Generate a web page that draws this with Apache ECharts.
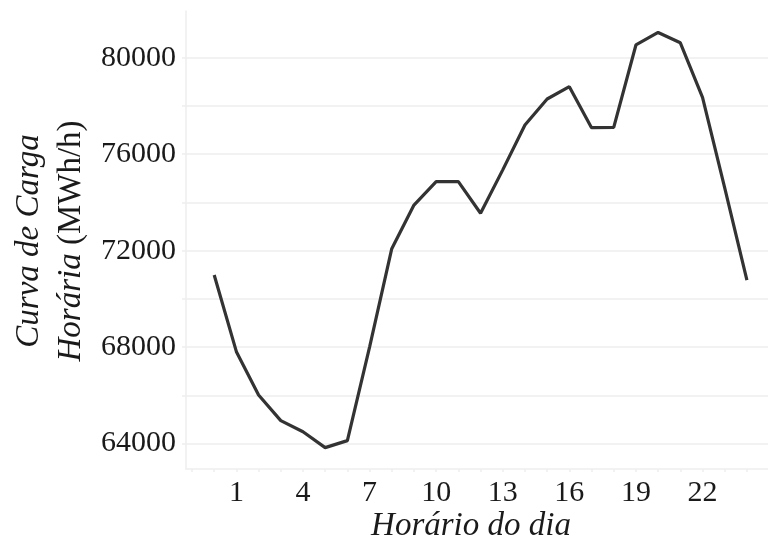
<!DOCTYPE html>
<html>
<head>
<meta charset="utf-8">
<script src="https://cdn.jsdelivr.net/npm/echarts@6/dist/echarts.min.js"></script>
<style>
html,body{margin:0;padding:0;background:#fff;}
#c{width:768px;height:542px;}
</style>
</head>
<body>
<div id="c"></div>
<script>
// Data
const hours = [0,1,2,3,4,5,6,7,8,9,10,11,12,13,14,15,16,17,18,19,20,21,22,23,24];
const load = [70990,67810,66010,64950,64490,63830,64120,68000,72080,73890,74860,74860,73550,75350,77210,78290,78800,77100,77110,80530,81050,80620,78360,74600,70780];
const xTickLabels = [1,4,7,10,13,16,19,22];
const xMinorTicks = [-1,0,1,2,3,4,5,6,7,8,9,10,11,12,13,14,15,16,17,18,19,20,21,22,23,24];
const yTickLabels = [64000,68000,72000,76000,80000];
const yGridValues = [64000,66000,68000,70000,72000,74000,76000,78000,80000];
const xTitle = 'Horário do dia';
const yTitle1 = 'Curva de Carga';
const yTitle2a = 'Horária';
const yTitle2b = '(MWh/h)';

const FONT = '"Liberation Serif", "DejaVu Serif", serif';
const TXT = '#1a1a1a';
const GRID = '#eeeeee';

const chart = echarts.init(document.getElementById('c'), null, {renderer:'canvas'});
chart.setOption({
  animation:false,
  backgroundColor:'#ffffff',
  grid:{left:186, right:0, top:11, bottom:73, containLabel:false},
  xAxis:{
    type:'value', min:-1.27, max:24.95,
    axisLine:{show:true, onZero:false, lineStyle:{color:GRID, width:1.5}},
    axisTick:{show:true, length:3, customValues:xMinorTicks, lineStyle:{color:GRID, width:1.5}},
    axisLabel:{show:true, customValues:xTickLabels, fontFamily:FONT, fontSize:30, color:TXT, margin:9,
               formatter:(v)=>String(v)},
    splitLine:{show:false}
  },
  yAxis:{
    type:'value', min:62943, max:81939,
    axisLine:{show:true, onZero:false, lineStyle:{color:GRID, width:1.5}},
    axisTick:{show:true, length:4, customValues:yGridValues, lineStyle:{color:GRID, width:1.5}},
    axisLabel:{show:true, customValues:yTickLabels, fontFamily:FONT, fontSize:30, color:TXT, margin:10,
               formatter:(v)=>String(v)},
    splitLine:{show:true, lineStyle:{color:GRID, width:1.5}}
  },
  graphic:[
    {type:'text', x:50, y:241, rotation:Math.PI/2,
     style:{
       text:'{i|'+yTitle1+'}\n{i|'+yTitle2a+'}{n| '+yTitle2b+'}',
       align:'center', verticalAlign:'middle',
       fill:TXT,
       rich:{
         i:{fontFamily:FONT, fontStyle:'italic', fontSize:33, lineHeight:42, fill:TXT},
         n:{fontFamily:FONT, fontSize:33, lineHeight:42, fill:TXT}
       }
     }},
    {type:'text', x:471, y:526,
     style:{text:xTitle, font:'italic 33px '+FONT, fill:TXT, align:'center', verticalAlign:'middle'}}
  ],
  series:[{
    type:'line',
    data:hours.map((h,i)=>[h,load[i]]),
    showSymbol:false,
    lineStyle:{color:'#333333', width:3.2},
    itemStyle:{color:'#333333'}
  }]
});
</script>
</body>
</html>
